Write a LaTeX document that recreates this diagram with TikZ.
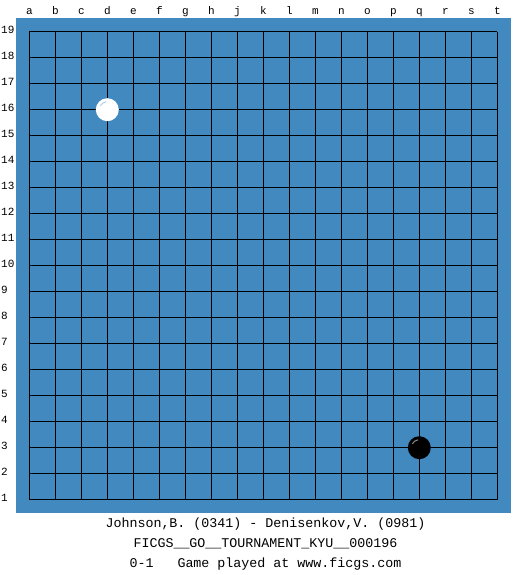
\documentclass[tikz,border=0pt]{standalone}
\usepackage{fontspec}
\setmonofont{Liberation Mono}
\definecolor{goban}{RGB}{65,137,190}
\begin{document}
\begin{tikzpicture}[x=1pt,y=-1pt]
  \tikzset{every node/.style={inner sep=0pt},
    lbl/.style={font=\ttfamily\fontsize{11}{11}\selectfont,anchor=base},
    info/.style={font=\ttfamily\fontsize{13.33}{13.33}\selectfont},
    stone/.style={circle,minimum size=23pt}}
  \useasboundingbox (0,0) rectangle (525,575);

  \fill[goban] (16,17.7) rectangle (511,512.7);
  \foreach \i in {0,...,18}{
    \draw[line width=1.1pt] (29.3+26*\i,31.7) -- (29.3+26*\i,499.7);
    \draw[line width=1.1pt] (29.3,31.7+26*\i) -- (497.3,31.7+26*\i);
  }

  \foreach \c [count=\i from 0] in {a,b,c,d,e,f,g,h,j,k,l,m,n,o,p,q,r,s,t}
    \node[lbl] (col\c) at (29.3+26*\i,14.3) {\c};
  \foreach \n in {1,...,19}
    \node[lbl,anchor=base west] (row\n) at (1,33.4+26*19-26*\n) {\n};

  \node[stone,fill=white] (d16) at (107.3,109.7) {};
  \node[stone,fill=black] (q3)  at (419.3,447.7) {};
  \draw[goban!40!white,line width=1pt] ([xshift=-6.9pt,yshift=4pt]d16.center) arc[start angle=150,end angle=100,radius=8pt];
  \draw[black!45!white,line width=1pt] ([xshift=-6.9pt,yshift=4pt]q3.center) arc[start angle=150,end angle=100,radius=8pt];

  \node[info] (players) at (265.5,524) {Johnson,B. (0341) - Denisenkov,V. (0981)};
  \node[info] (event)   at (265.5,544) {FICGS\_\_GO\_\_TOURNAMENT\_KYU\_\_000196};
  \node[info] (result)  at (265.5,564) {0-1\ \ \ Game played at www.ficgs.com};
\end{tikzpicture}
\end{document}
